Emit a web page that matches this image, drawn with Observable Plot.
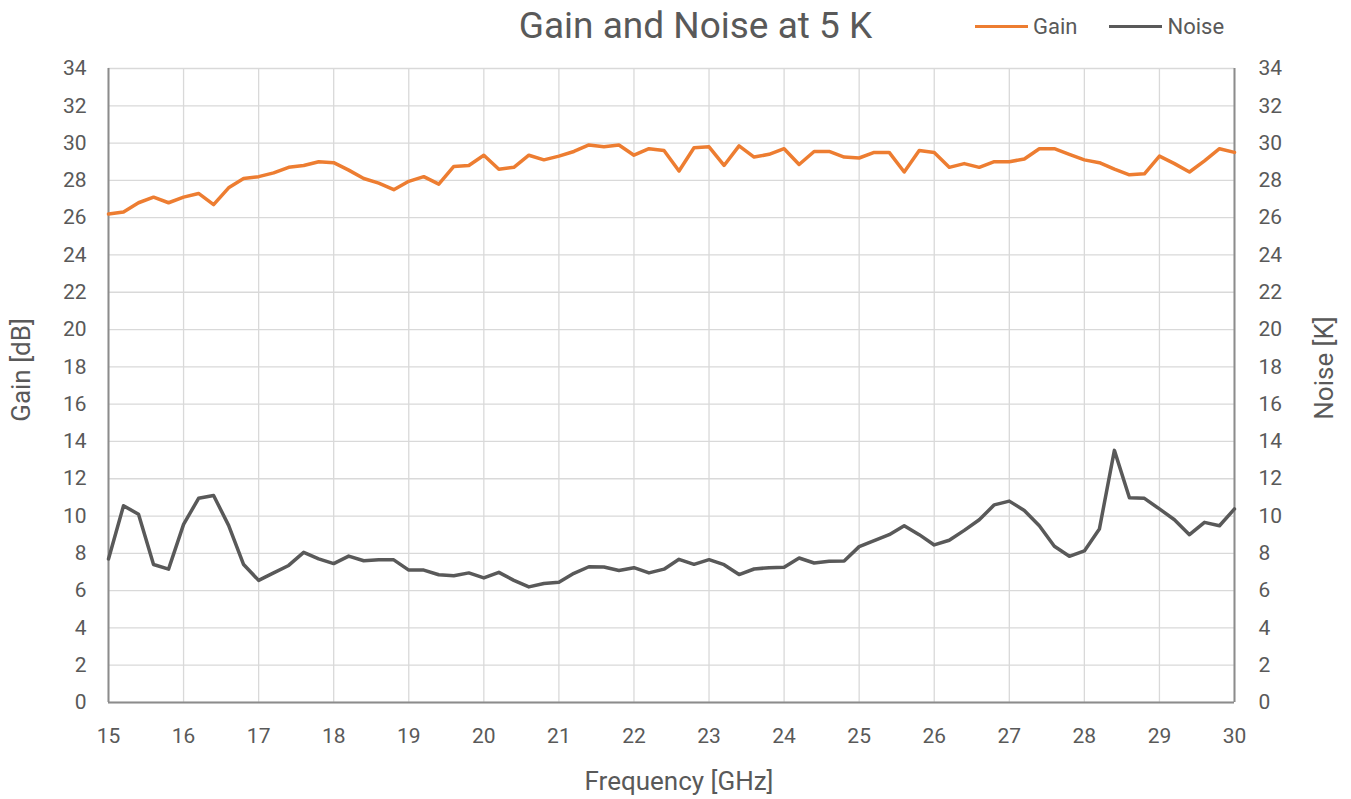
<!DOCTYPE html>
<html>
<head>
<meta charset="utf-8">
<script src="https://cdn.jsdelivr.net/npm/d3@7"></script>
<script src="https://cdn.jsdelivr.net/npm/@observablehq/plot@0.6"></script>
<style>
  html, body { margin: 0; padding: 0; background: #fff; }
  #wrap { position: relative; width: 1351px; height: 799px; font-family: Roboto, "Open Sans", sans-serif; color: #595959; }
  #title { position: absolute; left: 0; width: 1391px; top: 4px; text-align: center; font-size: 37px; color: #595959; }
  #legend { position: absolute; top: 14px; left: 975px; font-size: 22px; color: #595959; display: flex; align-items: center; }
  .sw { display: inline-block; width: 53px; height: 3.5px; margin-right: 5px; }
  .item { display: flex; align-items: center; margin-right: 32px; }
  .lab { position: absolute; font-size: 26px; color: #595959; white-space: nowrap; transform: translate(-50%, -50%); }
  .rot { transform: translate(-50%, -50%) rotate(-90deg); }
</style>
</head>
<body>
<div id="wrap">
  <div id="chart"></div>
  <div id="title">Gain and Noise at 5 K</div>
  <div id="legend">
    <span class="item"><span class="sw" style="background:#ED7D31"></span>Gain</span>
    <span class="item"><span class="sw" style="background:#595959"></span>Noise</span>
  </div>
  <div class="lab rot" style="left:21px; top:370px;">Gain [dB]</div>
  <div class="lab rot" style="left:1324px; top:368px;">Noise [K]</div>
  <div class="lab" style="left:679px; top:781px;">Frequency [GHz]</div>
</div>
<script>
const freq = [15.0,15.2,15.4,15.6,15.8,16.0,16.2,16.4,16.6,16.8,17.0,17.2,17.4,17.6,17.8,18.0,18.2,18.4,18.6,18.8,19.0,19.2,19.4,19.6,19.8,20.0,20.2,20.4,20.6,20.8,21.0,21.2,21.4,21.6,21.8,22.0,22.2,22.4,22.6,22.8,23.0,23.2,23.4,23.6,23.8,24.0,24.2,24.4,24.6,24.8,25.0,25.2,25.4,25.6,25.8,26.0,26.2,26.4,26.6,26.8,27.0,27.2,27.4,27.6,27.8,28.0,28.2,28.4,28.6,28.8,29.0,29.2,29.4,29.6,29.8,30.0];
const gain = [26.2,26.3,26.8,27.1,26.8,27.1,27.3,26.7,27.6,28.1,28.2,28.4,28.7,28.8,29.0,28.95,28.55,28.1,27.85,27.5,27.95,28.2,27.8,28.75,28.8,29.35,28.6,28.7,29.35,29.1,29.3,29.55,29.9,29.8,29.9,29.35,29.7,29.6,28.5,29.75,29.8,28.8,29.85,29.25,29.4,29.7,28.85,29.55,29.55,29.25,29.2,29.5,29.5,28.45,29.6,29.5,28.7,28.9,28.7,29.0,29.0,29.15,29.7,29.7,29.4,29.1,28.95,28.6,28.3,28.35,29.3,28.9,28.45,29.05,29.7,29.5];
const noise = [7.7,10.55,10.1,7.4,7.15,9.55,10.95,11.1,9.5,7.4,6.55,6.95,7.35,8.05,7.7,7.45,7.85,7.6,7.65,7.65,7.1,7.1,6.85,6.8,6.95,6.68,6.98,6.55,6.2,6.38,6.45,6.93,7.28,7.27,7.08,7.23,6.95,7.15,7.68,7.41,7.66,7.39,6.86,7.16,7.23,7.25,7.75,7.48,7.57,7.59,8.36,8.68,9.0,9.48,9.0,8.45,8.7,9.23,9.8,10.6,10.8,10.3,9.48,8.38,7.84,8.13,9.3,13.52,10.98,10.95,10.38,9.8,9.0,9.66,9.48,10.38];
const xTicks = [15,16,17,18,19,20,21,22,23,24,25,26,27,28,29,30];
const yTicks = [0,2,4,6,8,10,12,14,16,18,20,22,24,26,28,30,32,34];

const gainData = freq.map((f, i) => ({f, v: gain[i]}));
const noiseData = freq.map((f, i) => ({f, v: noise[i]}));

const chart = Plot.plot({
  width: 1351,
  height: 799,
  marginLeft: 108,
  marginRight: 117,
  marginTop: 68,
  marginBottom: 97,
  style: { fontFamily: "Roboto, 'Open Sans', sans-serif", background: "#fff", color: "#595959" },
  x: { domain: [15, 30] },
  y: { domain: [0, 34] },
  marks: [
    Plot.gridX(xTicks, { stroke: "#d9d9d9", strokeOpacity: 1, strokeWidth: 1.3 }),
    Plot.gridY(yTicks, { stroke: "#d9d9d9", strokeOpacity: 1, strokeWidth: 1.3 }),
    Plot.ruleY([0], { stroke: "#8c8c8c", strokeWidth: 2 }),
    Plot.ruleX([15, 30], { stroke: "#8c8c8c", strokeWidth: 2 }),
    Plot.axisX(xTicks, { anchor: "bottom", tickSize: 0, tickPadding: 26, fontSize: 21, fill: "#595959", label: null }),
    Plot.axisY(yTicks, { anchor: "left", tickSize: 0, tickPadding: 22, fontSize: 21, fill: "#595959", label: null }),
    Plot.axisY(yTicks, { anchor: "right", tickSize: 0, tickPadding: 24, fontSize: 21, fill: "#595959", label: null }),
    Plot.line(gainData, { x: "f", y: "v", stroke: "#ED7D31", strokeWidth: 3.5, strokeLinejoin: "round" }),
    Plot.line(noiseData, { x: "f", y: "v", stroke: "#595959", strokeWidth: 3.5, strokeLinejoin: "round" })
  ]
});
document.getElementById("chart").appendChild(chart);
</script>
</body>
</html>
